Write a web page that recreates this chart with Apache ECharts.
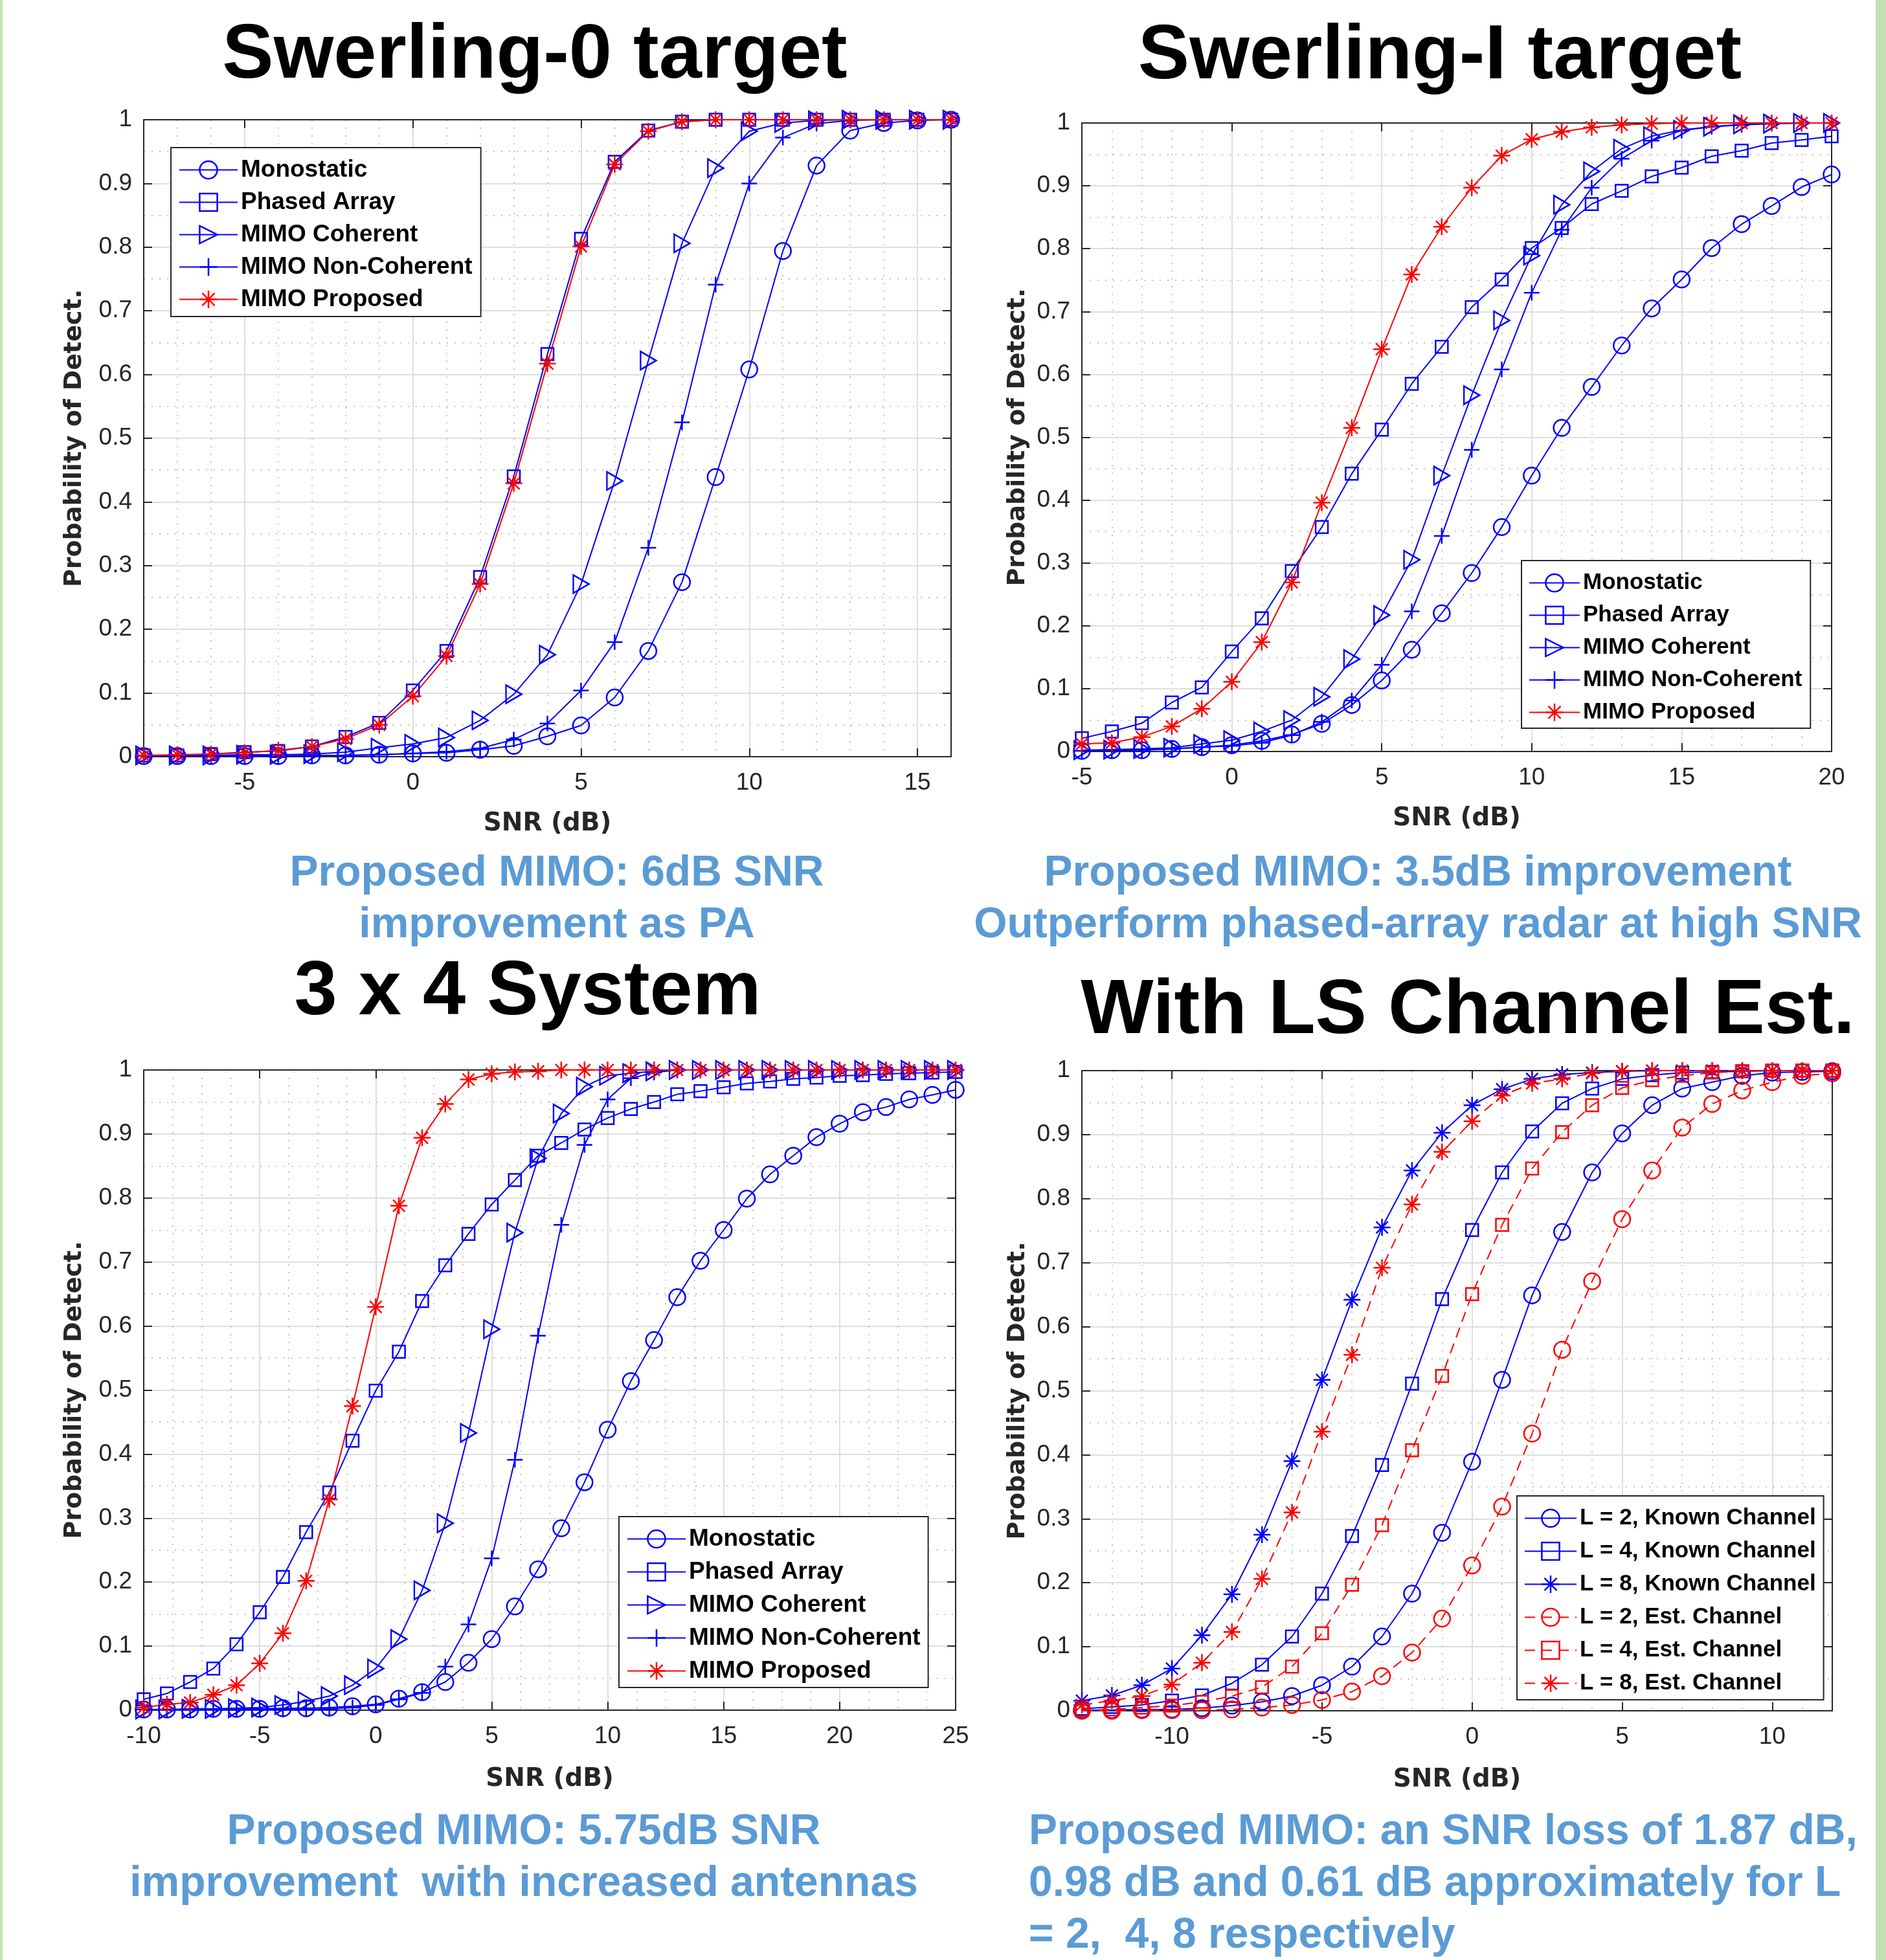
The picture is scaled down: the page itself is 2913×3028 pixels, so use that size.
<!DOCTYPE html>
<html>
<head>
<meta charset="utf-8">
<title>MIMO radar detection probability</title>
<script src="https://cdn.jsdelivr.net/npm/echarts@6/dist/echarts.min.js"></script>
<style>
html,body{margin:0;padding:0;background:#fff;}
#main{width:2913px;height:3028px;}
</style>
</head>
<body>
<div id="main"></div>
<script>
// ---- data ----
var snrSw0 = [-8,-7,-6,-5,-4,-3,-2,-1,0,1,2,3,4,5,6,7,8,9,10,11,12,13,14,15,16];
var sw0Mono   = [0.001,0.001,0.001,0.001,0.001,0.002,0.002,0.003,0.005,0.006,0.011,0.017,0.032,0.049,0.093,0.166,0.274,0.439,0.608,0.794,0.928,0.983,0.995,0.999,1];
var sw0PA     = [0.002,0.002,0.004,0.007,0.009,0.016,0.031,0.053,0.104,0.166,0.282,0.440,0.632,0.813,0.934,0.983,0.997,1,1,1,1,1,1,1,1];
var sw0Coh    = [0.002,0.002,0.002,0.003,0.003,0.004,0.007,0.014,0.020,0.030,0.057,0.098,0.160,0.271,0.433,0.622,0.806,0.924,0.982,0.995,0.999,1,1,1,1];
var sw0NonCoh = [0.001,0.001,0.001,0.001,0.001,0.002,0.002,0.003,0.005,0.008,0.013,0.027,0.052,0.104,0.180,0.328,0.525,0.741,0.900,0.972,0.994,0.999,1,1,1];
var sw0Prop   = [0.002,0.003,0.004,0.006,0.010,0.016,0.028,0.050,0.095,0.158,0.271,0.429,0.617,0.801,0.930,0.982,0.997,1,1,1,1,1,1,1,1];

var snrSw1 = [-5,-4,-3,-2,-1,0,1,2,3,4,5,6,7,8,9,10,11,12,13,14,15,16,17,18,19,20];
var sw1Mono   = [0.001,0.002,0.002,0.004,0.007,0.010,0.017,0.027,0.044,0.074,0.113,0.162,0.220,0.284,0.357,0.439,0.515,0.580,0.646,0.705,0.751,0.801,0.839,0.868,0.898,0.918];
var sw1PA     = [0.021,0.032,0.045,0.078,0.102,0.159,0.212,0.287,0.357,0.442,0.512,0.585,0.644,0.707,0.751,0.801,0.833,0.871,0.892,0.915,0.929,0.947,0.956,0.968,0.973,0.979];
var sw1Coh    = [0.002,0.003,0.004,0.006,0.012,0.018,0.032,0.050,0.087,0.147,0.217,0.305,0.439,0.567,0.686,0.789,0.870,0.923,0.959,0.979,0.989,0.994,0.998,0.999,1,1];
var sw1NonCoh = [0.001,0.002,0.003,0.004,0.007,0.009,0.014,0.026,0.047,0.081,0.138,0.223,0.343,0.480,0.608,0.730,0.830,0.897,0.943,0.972,0.988,0.994,0.997,0.999,1,1];
var sw1Prop   = [0.012,0.014,0.023,0.040,0.068,0.111,0.174,0.269,0.396,0.515,0.640,0.759,0.835,0.897,0.948,0.974,0.986,0.993,0.997,0.999,1,1,1,1,1,1];

var snr34 = [-10,-9,-8,-7,-6,-5,-4,-3,-2,-1,0,1,2,3,4,5,6,7,8,9,10,11,12,13,14,15,16,17,18,19,20,21,22,23,24,25];
var s34Mono   = [0.001,0.001,0.001,0.002,0.002,0.002,0.003,0.003,0.004,0.006,0.009,0.018,0.028,0.044,0.074,0.111,0.162,0.220,0.284,0.356,0.438,0.514,0.578,0.645,0.702,0.750,0.799,0.837,0.866,0.895,0.916,0.934,0.942,0.954,0.961,0.969];
var s34PA     = [0.017,0.026,0.044,0.065,0.103,0.153,0.208,0.278,0.340,0.421,0.499,0.560,0.639,0.695,0.744,0.790,0.828,0.866,0.886,0.907,0.925,0.939,0.950,0.962,0.967,0.973,0.979,0.982,0.986,0.988,0.991,0.992,0.994,0.995,0.996,0.997];
var s34Coh    = [0.001,0.001,0.002,0.002,0.003,0.004,0.008,0.014,0.022,0.039,0.065,0.111,0.187,0.292,0.433,0.595,0.746,0.862,0.932,0.974,0.991,0.995,0.998,1,1,1,1,1,1,1,1,1,1,1,1,1];
var s34NonCoh = [0.001,0.001,0.001,0.001,0.001,0.001,0.001,0.001,0.002,0.004,0.008,0.017,0.027,0.068,0.134,0.237,0.391,0.585,0.758,0.883,0.954,0.987,0.996,1,1,1,1,1,1,1,1,1,1,1,1,1];
var s34Prop   = [0.004,0.009,0.012,0.024,0.039,0.073,0.120,0.202,0.329,0.475,0.630,0.788,0.894,0.947,0.985,0.994,0.997,0.998,1,1,1,1,1,1,1,1,1,1,1,1,1,1,1,1,1,1];

var snrLS = [-13,-12,-11,-10,-9,-8,-7,-6,-5,-4,-3,-2,-1,0,1,2,3,4,5,6,7,8,9,10,11,12];
var lsKnown2 = [0.001,0.001,0.002,0.002,0.004,0.008,0.014,0.023,0.040,0.069,0.116,0.183,0.278,0.389,0.517,0.649,0.748,0.841,0.902,0.946,0.972,0.982,0.992,0.997,0.998,0.999];
var lsKnown4 = [0.003,0.006,0.009,0.016,0.024,0.043,0.072,0.116,0.183,0.273,0.384,0.511,0.643,0.751,0.841,0.905,0.949,0.972,0.987,0.993,0.997,0.998,0.999,1,1,1];
var lsKnown8 = [0.016,0.024,0.040,0.066,0.118,0.182,0.275,0.390,0.517,0.642,0.755,0.844,0.903,0.946,0.971,0.987,0.994,0.997,0.999,1,1,1,1,1,1,1];
var lsEst2   = [0.000,0.000,0.001,0.001,0.001,0.002,0.005,0.009,0.017,0.030,0.054,0.091,0.144,0.227,0.319,0.433,0.564,0.671,0.768,0.844,0.911,0.948,0.969,0.982,0.992,0.996];
var lsEst4   = [0.001,0.002,0.005,0.008,0.014,0.023,0.037,0.069,0.121,0.197,0.290,0.407,0.523,0.651,0.759,0.847,0.904,0.946,0.973,0.985,0.992,0.997,0.999,1,1,1];
var lsEst8   = [0.009,0.016,0.023,0.041,0.075,0.123,0.206,0.310,0.436,0.556,0.692,0.791,0.873,0.921,0.961,0.980,0.987,0.996,0.999,1,1,1,1,1,1,1];

var radarNames = ['Monostatic','Phased Array','MIMO Coherent','MIMO Non-Coherent','MIMO Proposed'];
var lsNames = ['L = 2, Known Channel','L = 4, Known Channel','L = 8, Known Channel','L = 2, Est. Channel','L = 4, Est. Channel','L = 8, Est. Channel'];

// ---- styles ----
var AXC = '#262626';
var BLUE = '#0000ff';
var RED = '#ff0000';
var FONT = '"Liberation Sans", Arial, sans-serif';
var NAMEFONT = '"DejaVu Sans", Verdana, sans-serif';
var CAPTION = '#5b9bd5';

var SYM_TRI = 'path://M0,0L10,5L0,10Z';
var SYM_PLUS = 'path://M5,0L5,10M0,5L10,5';
var SYM_STAR = 'path://M5,0L5,10M0,5L10,5M1.5,1.5L8.5,8.5M8.5,1.5L1.5,8.5';

var grids = [
    {left: 222, top: 185, width: 1247, height: 984},
    {left: 1671, top: 190, width: 1158, height: 971},
    {left: 222, top: 1653, width: 1254, height: 989},
    {left: 1671, top: 1654, width: 1159, height: 989}
];
var xRange = [[-8, 16], [-5, 20], [-10, 25], [-13, 12]];
var xMinorSplit = [5, 5, 4, 5];
var xEdgeLabels = [false, true, true, false];
var xNameGap = [84, 84, 87, 87];
var yNameGap = [88, 80, 88, 80];

function bottomX(i){
    return {
        type: 'value', gridIndex: i, position: 'bottom',
        min: xRange[i][0], max: xRange[i][1], minInterval: 5, maxInterval: 5,
        axisLine: {show: true, onZero: false, lineStyle: {color: AXC, width: 2}},
        axisTick: {show: true, inside: true, length: 13, lineStyle: {color: AXC, width: 2}},
        axisLabel: {margin: 22, fontSize: 37, color: AXC, fontFamily: FONT,
            showMinLabel: xEdgeLabels[i], showMaxLabel: xEdgeLabels[i]},
        splitLine: {show: true, lineStyle: {color: '#dedede', width: 2}},
        minorTick: {show: false, splitNumber: xMinorSplit[i]},
        minorSplitLine: {show: true, lineStyle: {color: '#c4c4c4', width: 2, type: [2, 10]}},
        name: 'SNR (dB)', nameLocation: 'middle', nameGap: xNameGap[i],
        nameTextStyle: {fontFamily: NAMEFONT, fontWeight: 'bold', fontSize: 39, color: AXC}
    };
}
function topX(i){
    return {
        type: 'value', gridIndex: i, position: 'top',
        min: xRange[i][0], max: xRange[i][1], minInterval: 5, maxInterval: 5,
        axisLine: {show: true, onZero: false, lineStyle: {color: AXC, width: 2}},
        axisTick: {show: true, inside: true, length: 13, lineStyle: {color: AXC, width: 2}},
        axisLabel: {show: false},
        splitLine: {show: false}
    };
}
function leftY(i){
    return {
        type: 'value', gridIndex: i, position: 'left', min: 0, max: 1, interval: 0.1,
        axisLine: {show: true, onZero: false, lineStyle: {color: AXC, width: 2}},
        axisTick: {show: true, inside: true, length: 13, lineStyle: {color: AXC, width: 2}},
        axisLabel: {margin: 18, fontSize: 37, color: AXC, fontFamily: FONT},
        splitLine: {show: true, lineStyle: {color: '#dedede', width: 2}},
        minorTick: {show: false, splitNumber: 2},
        minorSplitLine: {show: true, lineStyle: {color: '#c4c4c4', width: 2, type: [2, 10]}},
        name: 'Probability of Detect.', nameLocation: 'middle', nameRotate: 90, nameGap: yNameGap[i],
        nameTextStyle: {fontFamily: NAMEFONT, fontWeight: 'bold', fontSize: 38, color: AXC}
    };
}
function rightY(i){
    return {
        type: 'value', gridIndex: i, position: 'right', min: 0, max: 1, interval: 0.1,
        axisLine: {show: true, onZero: false, lineStyle: {color: AXC, width: 2}},
        axisTick: {show: true, inside: true, length: 13, lineStyle: {color: AXC, width: 2}},
        axisLabel: {show: false},
        splitLine: {show: false}
    };
}

function curve(name, gi, xs, ys, color, symbol, size, dashed){
    var pts = [];
    for (var k = 0; k < xs.length; k++) pts.push([xs[k], ys[k]]);
    return {
        name: name, type: 'line', xAxisIndex: gi, yAxisIndex: gi,
        data: pts, symbol: symbol, symbolSize: size, showAllSymbol: true, clip: false,
        lineStyle: {color: color, width: 2, type: dashed ? [16, 10] : 'solid'},
        itemStyle: {color: 'transparent', borderColor: color, borderWidth: 2.5},
        emphasis: {disabled: true}
    };
}

function radarSet(gi, xs, mono, pa, coh, noncoh, prop){
    return [
        curve(radarNames[0], gi, xs, mono, BLUE, 'circle', 25),
        curve(radarNames[1], gi, xs, pa, BLUE, 'rect', 19),
        curve(radarNames[2], gi, xs, coh, BLUE, SYM_TRI, [24, 28]),
        curve(radarNames[3], gi, xs, noncoh, BLUE, SYM_PLUS, 24),
        curve(radarNames[4], gi, xs, prop, RED, SYM_STAR, 26)
    ];
}

// legend symbol is drawn at 80% of itemHeight
function legendBox(left, top, names, fontSize, itemWidth, gap, pad){
    return {
        show: true, orient: 'vertical', left: left, top: top, data: names, selectedMode: false,
        itemWidth: itemWidth, itemHeight: 34, itemGap: gap, padding: pad,
        borderColor: AXC, borderWidth: 2, backgroundColor: '#fff',
        itemStyle: {borderWidth: 2.5},
        textStyle: {fontFamily: FONT, fontWeight: 'bold', fontSize: fontSize, color: '#000'}
    };
}

function label(x, y, text, font, color, align, lh){
    return {
        type: 'text', x: x, y: y, silent: true,
        style: {text: text, font: font, fill: color, align: align, textAlign: align,
            verticalAlign: lh ? 'top' : 'middle', textVerticalAlign: lh ? 'top' : 'middle',
            lineHeight: lh || undefined}
    };
}

var series = []
    .concat(radarSet(0, snrSw0, sw0Mono, sw0PA, sw0Coh, sw0NonCoh, sw0Prop))
    .concat(radarSet(1, snrSw1, sw1Mono, sw1PA, sw1Coh, sw1NonCoh, sw1Prop))
    .concat(radarSet(2, snr34, s34Mono, s34PA, s34Coh, s34NonCoh, s34Prop))
    .concat([
        curve(lsNames[0], 3, snrLS, lsKnown2, BLUE, 'circle', 25),
        curve(lsNames[1], 3, snrLS, lsKnown4, BLUE, 'rect', 19),
        curve(lsNames[2], 3, snrLS, lsKnown8, BLUE, SYM_STAR, 26),
        curve(lsNames[3], 3, snrLS, lsEst2, RED, 'circle', 25, true),
        curve(lsNames[4], 3, snrLS, lsEst4, RED, 'rect', 19, true),
        curve(lsNames[5], 3, snrLS, lsEst8, RED, SYM_STAR, 26, true)
    ]);

var TITLEFONT = 'bold 119px "Liberation Sans", Arial, sans-serif';
var CAPFONT = 'bold 66px "Liberation Sans", Arial, sans-serif';
var GREEN = '#c6e0b4';

var option = {
    animation: false,
    backgroundColor: '#fff',
    grid: grids,
    xAxis: [bottomX(0), bottomX(1), bottomX(2), bottomX(3), topX(0), topX(1), topX(2), topX(3)],
    yAxis: [leftY(0), leftY(1), leftY(2), leftY(3), rightY(0), rightY(1), rightY(2), rightY(3)],
    legend: [
        legendBox(264, 228, radarNames, 37, 90, 13, [16, 13, 8, 12]),
        legendBox(2350, 866, radarNames, 35, 78, 15, [17, 13, 7, 11]),
        legendBox(956, 2343, radarNames, 37, 90, 14, [16, 12, 7, 12]),
        legendBox(2343, 2311, lsNames, 35, 80, 16, [17, 12, 8, 11])
    ],
    graphic: [
        {type: 'rect', silent: true, shape: {x: 0, y: 0, width: 4, height: 3028}, style: {fill: GREEN}},
        {type: 'rect', silent: true, shape: {x: 2897, y: 0, width: 16, height: 3028}, style: {fill: GREEN}},
        label(826, 87, 'Swerling-0 target', TITLEFONT, '#000', 'center'),
        label(2224, 88, 'Swerling-I target', TITLEFONT, '#000', 'center'),
        label(815, 1534, '3 x 4 System', TITLEFONT, '#000', 'center'),
        label(2267, 1563, 'With LS Channel Est.', TITLEFONT, '#000', 'center'),
        label(860, 1310, 'Proposed MIMO: 6dB SNR\nimprovement as PA', CAPFONT, CAPTION, 'center', 80),
        label(2190, 1310, 'Proposed MIMO: 3.5dB improvement\nOutperform phased-array radar at high SNR', CAPFONT, CAPTION, 'center', 80),
        label(809, 2791, 'Proposed MIMO: 5.75dB SNR\nimprovement  with increased antennas', CAPFONT, CAPTION, 'center', 80),
        label(1589, 2791, 'Proposed MIMO: an SNR loss of 1.87 dB,\n0.98 dB and 0.61 dB approximately for L\n= 2,  4, 8 respectively', CAPFONT, CAPTION, 'left', 80)
    ],
    series: series
};

var myChart = echarts.init(document.getElementById('main'));
myChart.setOption(option);
</script>
</body>
</html>
